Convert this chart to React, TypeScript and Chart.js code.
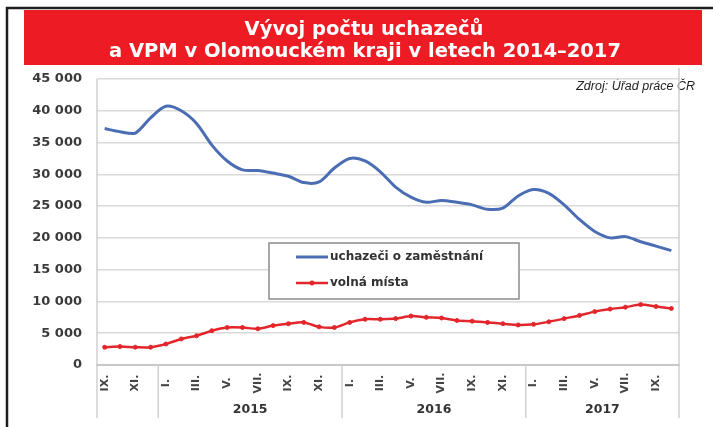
import { useEffect, useRef } from "react";
import { Chart, registerables } from "chart.js";

Chart.register(...registerables);

// ---- data ----
const monthLabels = [
  "IX.", "", "XI.", "",
  "I.", "", "III.", "", "V.", "", "VII.", "", "IX.", "", "XI.", "",
  "I.", "", "III.", "", "V.", "", "VII.", "", "IX.", "", "XI.", "",
  "I.", "", "III.", "", "V.", "", "VII.", "", "IX.", "",
];

const yearLabels = ["", "2015", "2016", "2017"];
const yearMonthCounts = [4, 12, 12, 10];

const uchazeci = [
  37200, 36700, 36500, 38900,
  40700, 40000, 38000, 34600, 32100, 30700, 30600, 30200, 29700, 28700, 28800, 31000,
  32500, 32100, 30400, 28000, 26400, 25600, 25900, 25600, 25200, 24500, 24700, 26600,
  27600, 27000, 25200, 22900, 21000, 20000, 20200, 19400, 18700, 18000,
];

const volnaMista = [
  2800, 2900, 2800, 2800,
  3300, 4100, 4600, 5400, 5900, 5900, 5700, 6200, 6500, 6700, 6000, 5900,
  6700, 7200, 7200, 7300, 7700, 7500, 7400, 7000, 6900, 6700, 6500, 6300,
  6400, 6800, 7300, 7800, 8400, 8800, 9100, 9500, 9200, 8900,
];

const seriesNames = ["uchazeči o zaměstnání", "volná místa"];
const titleLines = ["Vývoj počtu uchazečů", "a VPM v Olomouckém kraji v letech 2014–2017"];
const sourceText = "Zdroj: Úřad práce ČR";
const yMax = 45000;
const yStep = 5000;

const fmt = (v: number) => String(v).replace(/\B(?=(\d{3})+(?!\d))/g, " ");

const decorPlugin = {
  id: "decor",
  beforeDraw(chart: any) {
    const ctx = chart.ctx as CanvasRenderingContext2D;
    const W = chart.width;
    const H = chart.height;
    ctx.save();
    ctx.fillStyle = "#ffffff";
    ctx.fillRect(0, 0, W, H);
    // black frame
    ctx.strokeStyle = "#1e1e1e";
    ctx.lineWidth = 2.5;
    ctx.beginPath();
    ctx.moveTo(7, H);
    ctx.lineTo(7, 8);
    ctx.lineTo(W, 8);
    ctx.stroke();
    // red banner
    ctx.fillStyle = "#ed1c24";
    ctx.fillRect(24, 10, 678, 55);
    ctx.fillStyle = "#ffffff";
    ctx.font = "bold 19.5px 'DejaVu Sans'";
    ctx.textAlign = "center";
    ctx.textBaseline = "alphabetic";
    ctx.fillText(titleLines[0], 364, 35);
    ctx.fillText(titleLines[1], 365, 57);
    // source
    ctx.fillStyle = "#222";
    ctx.font = "italic 12.5px 'Liberation Sans'";
    ctx.textAlign = "right";
    ctx.fillText(sourceText, 695, 90);
    ctx.restore();
  },
  afterDraw(chart: any) {
    const ctx = chart.ctx as CanvasRenderingContext2D;
    const xs = chart.scales.x;
    const area = chart.chartArea;
    const bottom = 418;
    ctx.save();
    // plot borders extending into label region
    ctx.strokeStyle = "#cfcfcf";
    ctx.lineWidth = 1.5;
    ctx.beginPath();
    ctx.moveTo(area.left, area.top);
    ctx.lineTo(area.left, bottom);
    ctx.moveTo(area.right, 68);
    ctx.lineTo(area.right, bottom);
    ctx.stroke();
    // year separators and labels
    let start = 0;
    ctx.fillStyle = "#333";
    ctx.font = "bold 12.5px 'DejaVu Sans'";
    ctx.textAlign = "center";
    ctx.textBaseline = "middle";
    yearMonthCounts.forEach((cnt, gi) => {
      const end = start + cnt - 1;
      if (gi > 0) {
        const bx = (xs.getPixelForValue(start - 1) + xs.getPixelForValue(start)) / 2;
        ctx.beginPath();
        ctx.moveTo(bx, area.bottom);
        ctx.lineTo(bx, bottom);
        ctx.stroke();
      }
      const cx = (xs.getPixelForValue(start) + xs.getPixelForValue(end)) / 2;
      if (yearLabels[gi]) ctx.fillText(yearLabels[gi], cx, 410);
      start += cnt;
    });
    // month labels rotated
    ctx.font = "bold 11px 'DejaVu Sans'";
    ctx.fillStyle = "#444";
    monthLabels.forEach((lab, i) => {
      if (!lab) return;
      const x = xs.getPixelForValue(i);
      ctx.save();
      ctx.translate(x, 383);
      ctx.rotate(-Math.PI / 2);
      ctx.textAlign = "center";
      ctx.textBaseline = "middle";
      ctx.fillText(lab, 0, 0);
      ctx.restore();
    });
    // legend
    const lx = 269, ly = 243, lw = 250, lh = 56;
    ctx.fillStyle = "#ffffff";
    ctx.fillRect(lx, ly, lw, lh);
    ctx.strokeStyle = "#8c8c8c";
    ctx.lineWidth = 1.5;
    ctx.strokeRect(lx, ly, lw, lh);
    const rows = [257, 283];
    chart.data.datasets.forEach((ds: any, i: number) => {
      const y = rows[i];
      ctx.strokeStyle = ds.borderColor;
      ctx.lineWidth = ds.borderWidth;
      ctx.beginPath();
      ctx.moveTo(296, y);
      ctx.lineTo(328, y);
      ctx.stroke();
      if (ds.pointRadius > 0) {
        ctx.fillStyle = ds.borderColor;
        ctx.beginPath();
        ctx.arc(312, y, ds.pointRadius + 0.5, 0, Math.PI * 2);
        ctx.fill();
      }
      ctx.fillStyle = "#333";
      ctx.font = "bold 12px 'DejaVu Sans'";
      ctx.textAlign = "left";
      ctx.textBaseline = "middle";
      ctx.fillText(ds.label, 330, y);
    });
    ctx.restore();
  },
};

export default function App() {
  const ref = useRef<HTMLCanvasElement | null>(null);
  useEffect(() => {
    if (!ref.current) return;
    const chart = new Chart(ref.current, {
      type: "line",
      data: {
        labels: monthLabels,
        datasets: [
          {
            label: seriesNames[0],
            data: uchazeci,
            borderColor: "#4a6db4",
            backgroundColor: "#4a6db4",
            borderWidth: 3,
            pointRadius: 0,
            tension: 0.3,
          },
          {
            label: seriesNames[1],
            data: volnaMista,
            borderColor: "#e3262b",
            backgroundColor: "#e3262b",
            borderWidth: 2.5,
            pointRadius: 2,
            pointBorderWidth: 1,
            tension: 0.3,
          },
        ],
      },
      options: {
        responsive: false,
        animation: false,
        layout: { padding: { left: 0, right: 34, top: 79, bottom: 0 } },
        plugins: {
          legend: { display: false },
          title: { display: false },
          tooltip: { enabled: false },
        },
        scales: {
          x: {
            type: "category",
            offset: true,
            grid: { display: false, drawTicks: false },
            border: { display: true, color: "#c8c8c8", width: 2 },
            ticks: { display: false },
            afterFit: (s: any) => {
              s.height = 62;
            },
          },
          y: {
            min: 0,
            max: yMax,
            ticks: {
              stepSize: yStep,
              padding: 15,
              color: "#3a3a3a",
              font: { family: "DejaVu Sans", size: 13, weight: "bold" },
              callback: (v: any) => fmt(Number(v)),
            },
            grid: { color: "#d9d9d9", lineWidth: 1.5, drawTicks: false },
            border: { display: false },
            afterFit: (s: any) => {
              s.width = 97;
            },
          },
        },
      },
      plugins: [decorPlugin],
    } as any);
    return () => chart.destroy();
  }, []);
  return (
    <div style={{ position: "fixed", left: 0, top: 0, width: 713, height: 427 }}>
      <canvas ref={ref} width={713} height={427} style={{ display: "block" }} />
    </div>
  );
}
